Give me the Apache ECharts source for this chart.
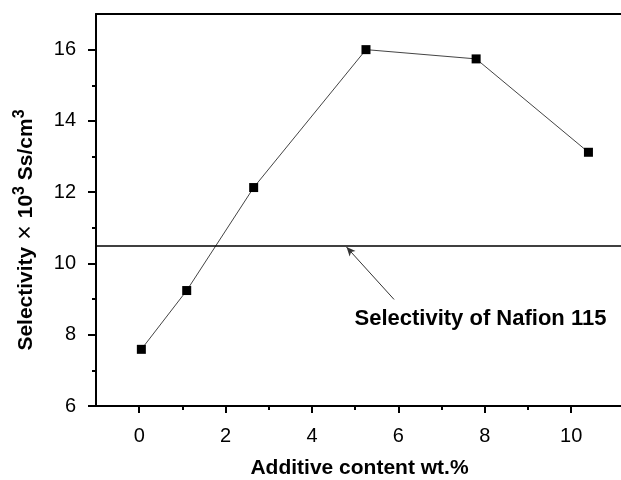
<!DOCTYPE html>
<html>
<head>
<meta charset="utf-8">
<script src="https://cdn.jsdelivr.net/npm/echarts@6/dist/echarts.min.js"></script>
<style>
  html, body { margin: 0; padding: 0; background: #fff; }
  #main { width: 621px; height: 480px; }
</style>
</head>
<body>
<div id="main"></div>
<script>
/* data */
var additive = [0.05, 1.1, 2.65, 5.25, 7.8, 10.4];
var selectivity = [7.59, 9.24, 12.13, 16.0, 15.74, 13.12];
var nafion = 10.5;
var xMajor = [0, 2, 4, 6, 8, 10];
var xMinor = [1, 3, 5, 7, 9];
var yMajor = [6, 8, 10, 12, 14, 16];
var yMinor = [7, 9, 11, 13, 15];
var arrowFrom = [5.9, 8.99];
var arrowTo = [4.8, 10.46];
var notePos = [7.9, 8.44];
var noteText = 'Selectivity of Nafion 115';

var points = [];
for (var i = 0; i < additive.length; i++) {
	points.push([additive[i], selectivity[i]]);
}

var font = 'Liberation Sans, Arial, sans-serif';

var myChart = echarts.init(document.getElementById('main'));
var option = {
	animation: false,
	backgroundColor: '#fff',
	grid: { left: 96, top: 14, width: 527, height: 392, outerBoundsMode: 'none', containLabel: false },
	xAxis: [
		{
			type: 'value', min: -1, max: 11.2, position: 'bottom',
			name: 'Additive content wt.%',
			nameLocation: 'middle', nameGap: 52,
			nameTextStyle: { fontFamily: font, fontSize: 21, fontWeight: 'bold', color: '#000' },
			axisLine: { show: true, onZero: false, lineStyle: { color: '#000', width: 2 } },
			axisTick: { show: true, inside: false, length: 7, customValues: xMajor, lineStyle: { color: '#000', width: 2 } },
			axisLabel: { customValues: xMajor, margin: 20, fontFamily: font, fontSize: 20, color: '#000' },
			splitLine: { show: false }
		},
		{
			type: 'value', min: -1, max: 11.2, position: 'bottom',
			axisLine: { show: false, onZero: false },
			axisTick: { show: true, length: 4, customValues: xMinor, lineStyle: { color: '#000', width: 2 } },
			axisLabel: { show: false },
			splitLine: { show: false }
		},
		{
			type: 'value', min: -1, max: 11.2, position: 'top',
			axisLine: { show: true, onZero: false, lineStyle: { color: '#000', width: 2 } },
			axisTick: { show: false },
			axisLabel: { show: false },
			splitLine: { show: false }
		}
	],
	yAxis: [
		{
			type: 'value', min: 6, max: 17, position: 'left',
			name: '{b|Selectivity}{x| \u00d7 }{b|10}{s|3}{b| Ss/cm}{s|3}',
			nameLocation: 'middle', nameRotate: 90, nameGap: 56,
			nameTextStyle: {
				padding: [0, 40, 0, 0],
				rich: {
					b: { fontFamily: font, fontSize: 21, fontWeight: 'bold', color: '#000' },
					x: { fontFamily: font, fontSize: 25, color: '#000' },
					s: { fontFamily: font, fontSize: 16, fontWeight: 'bold', color: '#000', verticalAlign: 'top', padding: [0, 0, 12, 0] }
				}
			},
			axisLine: { show: true, onZero: false, lineStyle: { color: '#000', width: 2 } },
			axisTick: { show: true, length: 8, customValues: yMajor, lineStyle: { color: '#000', width: 2 } },
			axisLabel: { customValues: yMajor, margin: 20, fontFamily: font, fontSize: 20, color: '#000' },
			splitLine: { show: false }
		},
		{
			type: 'value', min: 6, max: 17, position: 'left', offset: 0,
			axisLine: { show: false, onZero: false },
			axisTick: { show: true, length: 4, customValues: yMinor, lineStyle: { color: '#000', width: 2 } },
			axisLabel: { show: false },
			splitLine: { show: false }
		}
	],
	series: [
		{
			type: 'line',
			data: points,
			symbol: 'rect',
			symbolSize: 9,
			itemStyle: { color: '#000' },
			lineStyle: { color: '#444', width: 1 },
			markLine: {
				silent: true,
				animation: false,
				label: { show: false },
				data: [
					[
						{ coord: [-1, nafion], symbol: 'none', lineStyle: { color: '#000', width: 1.5, type: 'solid' } },
						{ coord: [11.2, nafion], symbol: 'none' }
					],
					[
						{ coord: arrowFrom, symbol: 'none', lineStyle: { color: '#333', width: 1, type: 'solid' } },
						{ coord: arrowTo, symbol: 'arrow', symbolSize: [6, 9] }
					]
				]
			},
			markPoint: {
				silent: true,
				data: [{
					coord: notePos,
					symbol: 'circle',
					symbolSize: 0,
					label: {
						show: true, position: 'inside', formatter: noteText,
						fontFamily: font, fontSize: 22, fontWeight: 'bold', color: '#000'
					}
				}]
			}
		}
	]
};
myChart.setOption(option);
</script>
</body>
</html>
